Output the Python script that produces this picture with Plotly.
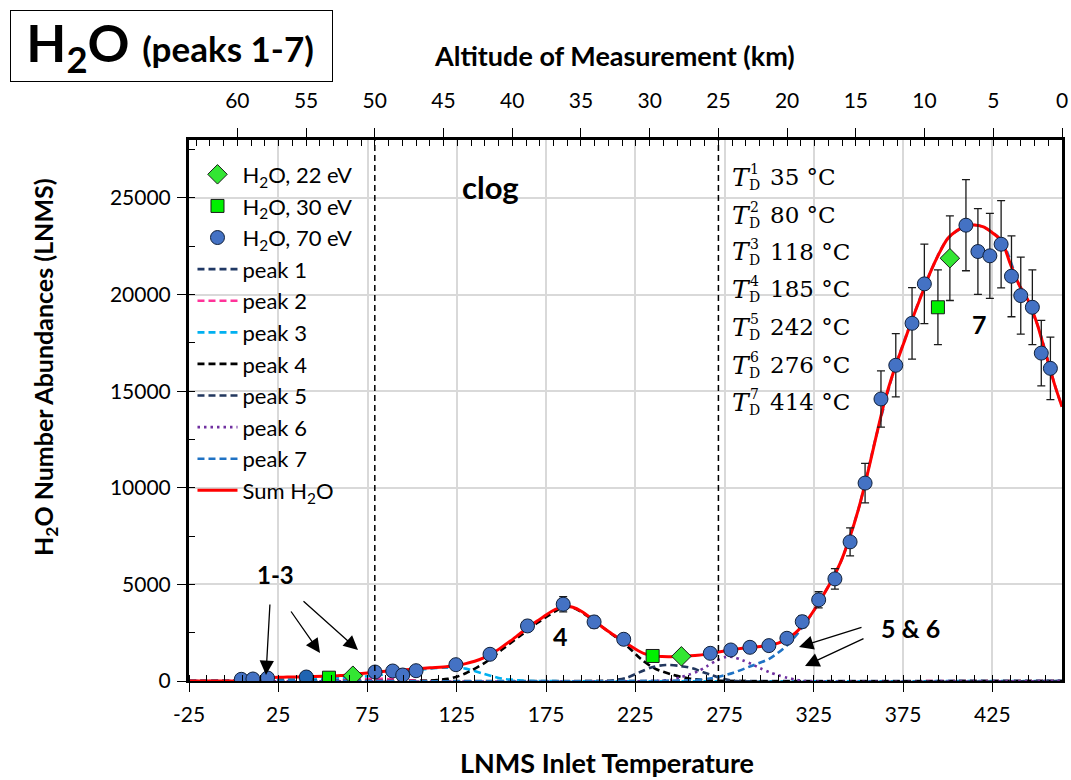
import plotly.graph_objects as go

# ---------------- data ----------------
T70 = [4.3, 10.8, 19.0, 40.7, 79.2, 89.1, 94.7, 102.2, 124.5, 143.6, 164.6, 184.6, 201.9, 218.5,
       267.0, 278.5, 289.2, 299.8, 309.9, 318.5, 327.7, 336.8, 345.3, 353.7, 362.6, 370.9, 380.0,
       386.9, 410.2, 416.9, 423.6, 429.9, 435.7, 440.9, 447.4, 452.4, 457.5]
N70 = [88, 104, 155, 207, 466, 518, 311, 534, 845, 1383, 2850, 3974, 3057, 2160,
       1433, 1606, 1744, 1831, 2211, 3070, 4200, 5285, 7200, 10243, 14596, 16340, 18513,
       20554, 23591, 22228, 22005, 22606, 20948, 19948, 19342, 16970, 16181]

T22 = [66.8, 250.8, 401.2]
N22 = [275, 1278, 21881]

T30 = [53.4, 234.7, 394.5]
N30 = [171, 1295, 19342]

sum_T = [-25, -10, 0, 5, 10, 15, 20, 25, 30, 40, 50, 60, 70, 80, 90, 100, 110, 120, 125, 130,
         135, 140, 145, 150, 155, 160, 165, 170, 175, 180, 185, 190, 195, 200, 205, 210, 215, 220,
         225, 230, 235, 240, 245, 250, 255, 260, 265, 270, 275, 280, 285, 290, 295, 300, 305, 310,
         315, 320, 325, 330, 335, 340, 345, 350, 355, 360, 365, 370, 375, 380, 385, 390, 395, 400,
         405, 410, 415, 420, 425, 430, 435, 440, 445, 450, 455, 460, 464]
sum_N = [0, 0, 5, 20, 60, 120, 165, 190, 205, 220, 240, 280, 370, 460, 540, 610, 680, 750, 810, 900,
         1020, 1200, 1440, 1740, 2070, 2420, 2770, 3100, 3420, 3700, 3860, 3820, 3600, 3260, 2900, 2560, 2250, 1950,
         1660, 1420, 1300, 1265, 1260, 1275, 1300, 1330, 1390, 1470, 1550, 1630, 1690, 1740, 1790, 1850, 1960, 2180,
         2520, 3000, 3650, 4400, 5200, 6150, 7400, 8900, 10700, 12700, 14600, 16100, 17400, 18700, 19900, 21100, 22100, 22900,
         23300, 23550, 23600, 23500, 23200, 22800, 21600, 20500, 19700, 18500, 16900, 15300, 14200]

p1_T = [-25, 0, 10, 20, 30, 35, 40, 50, 60, 70, 80, 464]
p1_N = [0, 0, 20, 70, 100, 105, 100, 70, 30, 5, 0, 0]

p2_T = [-25, 50, 60, 70, 80, 90, 100, 110, 464]
p2_N = [0, 0, 30, 90, 120, 90, 30, 0, 0]

p3_T = [-25, 10, 20, 30, 40, 50, 60, 70, 80, 90, 100, 110, 118, 125, 130, 140, 150, 160, 170, 464]
p3_N = [0, 0, 40, 90, 120, 140, 160, 210, 290, 400, 530, 640, 690, 690, 640, 380, 130, 30, 0, 0]

p4_T = [-25, 100, 110, 120, 125, 130, 140, 150, 160, 170, 180, 185, 190, 200, 210, 220, 228, 236, 245, 255, 265, 275, 464]
p4_N = [0, 0, 20, 110, 220, 400, 900, 1600, 2300, 3000, 3600, 3830, 3800, 3250, 2550, 1850, 1150, 640, 350, 130, 30, 0, 0]

p5_T = [-25, 205, 212, 220, 228, 235, 242, 249, 257, 263, 268, 274, 282, 464]
p5_N = [0, 0, 30, 160, 480, 730, 830, 790, 660, 450, 300, 120, 0, 0]

p6_T = [-25, 235, 245, 250, 255, 260, 265, 270, 276, 280, 285, 290, 295, 300, 305, 310, 315, 320, 464]
p6_N = [0, 0, 60, 180, 330, 500, 760, 1030, 1250, 1230, 1080, 880, 660, 460, 300, 170, 70, 0, 0]

p7_T = [-25, 240, 250, 260, 270, 280, 290, 300, 310, 320, 330, 340, 350, 360, 370, 380, 390, 400, 410, 415, 420, 430, 440, 450, 460, 464]
p7_N = [0, 0, 20, 60, 180, 430, 780, 1150, 1850, 2950, 4400, 6150, 8900, 12700, 16100, 18700, 21100, 22900, 23550, 23600, 23500, 22800, 20500, 18500, 15300, 14200]

temp_ticks = [-25, 25, 75, 125, 175, 225, 275, 325, 375, 425]
temp_tick_labels = ["-25", "25", "75", "125", "175", "225", "275", "325", "375", "425"]
altitude_ticks = [60, 55, 50, 45, 40, 35, 30, 25, 20, 15, 10, 5, 0]
clog_altitudes = [50, 25]
TD_values = ["35 °C", "80 °C", "118 °C", "185 °C", "242 °C", "276 °C", "414 °C"]

# ---------------- layout helpers (pixel -> paper) ----------------
L, R, TOP, B = 189, 1062, 140, 681
W, H = R - L, B - TOP
def px(x):
    return (x - L) / W
def py(y):
    return (B - y) / H

SANS = "Lato"
fig = go.Figure()

peaks = [
    ("peak 1", p1_T, p1_N, "#203864", "7px,4px"),
    ("peak 2", p2_T, p2_N, "#FF3399", "7px,4px"),
    ("peak 3", p3_T, p3_N, "#00B0F0", "7px,4px"),
    ("peak 4", p4_T, p4_N, "#000000", "7px,4px"),
    ("peak 5", p5_T, p5_N, "#22375E", "7px,4px"),
    ("peak 6", p6_T, p6_N, "#7030A0", "2.5px,4px"),
    ("peak 7", p7_T, p7_N, "#1F72C4", "7px,4px"),
]
for i, (name, xs, ys, col, dash) in enumerate(peaks):
    fig.add_trace(go.Scatter(
        x=xs, y=ys, mode="lines", name=name, legendrank=4 + i,
        line=dict(color=col, width=2.6, dash=dash, shape="spline", smoothing=0.8),
        hoverinfo="skip"))

fig.add_trace(go.Scatter(
    x=sum_T, y=sum_N, mode="lines", name="Sum H<sub>2</sub>O", legendrank=11,
    line=dict(color="#FF0000", width=3, shape="spline", smoothing=0.8)))

err = dict(type="percent", value=10, color="#1a1a1a", thickness=1.3, width=4)
colors70 = ["#4472C4"] * len(T70)
colors70[3] = "#1F64B2"
fig.add_trace(go.Scatter(
    x=T70, y=N70, mode="markers", name="H<sub>2</sub>O, 70 eV", legendrank=3,
    marker=dict(symbol="circle", size=14, color=colors70, line=dict(color="#10203a", width=1)),
    error_y=err))
fig.add_trace(go.Scatter(
    x=T30, y=N30, mode="markers", name="H<sub>2</sub>O, 30 eV", legendrank=2,
    marker=dict(symbol="square", size=13, color="#00F000", line=dict(color="#1a1a1a", width=1)),
    error_y=err))
fig.add_trace(go.Scatter(
    x=T22, y=N22, mode="markers", name="H<sub>2</sub>O, 22 eV", legendrank=1,
    marker=dict(symbol="diamond", size=15, color="#33E633", line=dict(color="#1a1a1a", width=1)),
    error_y=err))

# invisible trace to carry the top (altitude) axis
fig.add_trace(go.Scatter(x=altitude_ticks, y=[0] * len(altitude_ticks), xaxis="x2", mode="markers",
                         marker=dict(opacity=0), showlegend=False, hoverinfo="skip"))

shapes = []
for a in clog_altitudes:
    shapes.append(dict(type="line", xref="x2", yref="paper", x0=a, x1=a, y0=0, y1=1,
                       line=dict(color="black", width=1.5, dash="6px,4px")))

ann = []
def add_text(text, x, y, size, family=SANS, xanchor="center", angle=0):
    ann.append(dict(xref="paper", yref="paper", x=px(x), y=py(y), xanchor=xanchor, yanchor="middle",
                    text=text, textangle=angle, font=dict(family=family, size=size, color="black"),
                    showarrow=False))

# title box
ann.append(dict(xref="paper", yref="paper", x=px(10), y=py(10), xanchor="left", yanchor="top",
                text="&nbsp;<b>H<sub>2</sub>O <span style='font-size:35px'>(peaks 1-7)</span></b>",
                font=dict(family=SANS, size=52, color="black"), showarrow=False,
                bordercolor="black", borderwidth=1, borderpad=2, bgcolor="white",
                width=317, height=66, align="left", valign="middle"))
# axis titles
add_text("<b>Altitude of Measurement (km)</b>", 614, 55, 27)
add_text("<b>LNMS Inlet Temperature</b>", 607, 762, 27)
add_text("<b>H<sub>2</sub>O Number Abundances (LNMS)</b>", 45, 367, 25, angle=-90)
# labels
for txt, x, y, s in [("clog", 490, 187, 31), ("1-3", 275, 574, 24), ("4", 560, 636, 25),
                     ("5 &amp; 6", 910, 628, 25), ("7", 979, 324, 25)]:
    add_text("<b>%s</b>" % txt, x, y, s)
# arrows
for tip, tail in [((266, 675), (270, 603)), ((320, 653), (290, 610)), ((358, 650), (302, 600)),
                  ((799, 647), (863, 627)), ((805, 666), (865, 638))]:
    ann.append(dict(xref="paper", yref="paper", x=px(tip[0]), y=py(tip[1]), text="",
                    showarrow=True, arrowhead=2, arrowsize=2.2, arrowwidth=1.3, arrowcolor="black",
                    ax=tail[0] - tip[0], ay=tail[1] - tip[1], standoff=0))
# T_D annotations
line_y = [177, 215, 252, 289, 327, 365, 402]
SERIF = "DejaVu Serif"
for i, ly in enumerate(line_y):
    add_text("<i>T</i>", 730, ly, 25, SERIF, "left")
    add_text(str(i + 1), 748, ly - 8, 14, SERIF, "left")
    add_text("D", 747, ly + 8, 14, SERIF, "left")
    add_text(TD_values[i], 768, ly, 23, SERIF, "left")

tickfont = dict(family=SANS, size=21, color="black")

fig.update_layout(
    width=1071, height=780,
    margin=dict(l=L, r=1071 - R, t=TOP, b=780 - B, autoexpand=False),
    paper_bgcolor="white", plot_bgcolor="white",
    font=dict(family=SANS, color="black"),
    showlegend=True,
    legend=dict(x=0.004, y=0.975, xanchor="left", yanchor="top", bgcolor="rgba(0,0,0,0)",
                font=dict(family=SANS, size=22, color="black"),
                traceorder="normal", itemwidth=40),
    xaxis=dict(range=[-25, 464], tickvals=temp_ticks, ticktext=temp_tick_labels,
               showgrid=True, gridcolor="#D9D9D9", gridwidth=1.5,
               zeroline=False, showline=True, linecolor="black", linewidth=2,
               ticks="outside", ticklen=9, tickwidth=1.3, tickcolor="black",
               minor=dict(dtick=10, tick0=-25, ticks="inside", ticklen=6, tickwidth=1.2, tickcolor="black", showgrid=False),
               tickfont=tickfont, ticklabelstandoff=5),
    xaxis2=dict(overlaying="x", side="top", range=[63.52, 0], tickvals=altitude_ticks,
                showgrid=False, zeroline=False, showline=True, linecolor="black", linewidth=3,
                ticks="outside", ticklen=9, tickwidth=1.3, tickcolor="black",
                minor=dict(dtick=1, ticks="inside", ticklen=6, tickwidth=1.2, tickcolor="black", showgrid=False),
                tickfont=tickfont, ticklabelstandoff=12),
    yaxis=dict(range=[0, 28000], dtick=5000, tickformat="d", showgrid=True, gridcolor="#D9D9D9", gridwidth=1.5,
               zeroline=False, showline=True, linecolor="black", linewidth=3, mirror=True,
               ticks="outside", ticklen=9, tickwidth=1.3, tickcolor="black",
               minor=dict(dtick=2500, ticks="inside", ticklen=6, tickwidth=1.2, tickcolor="black", showgrid=False),
               tickfont=tickfont, ticklabelstandoff=2),
    shapes=shapes, annotations=ann,
)

fig.write_html("out.html")
